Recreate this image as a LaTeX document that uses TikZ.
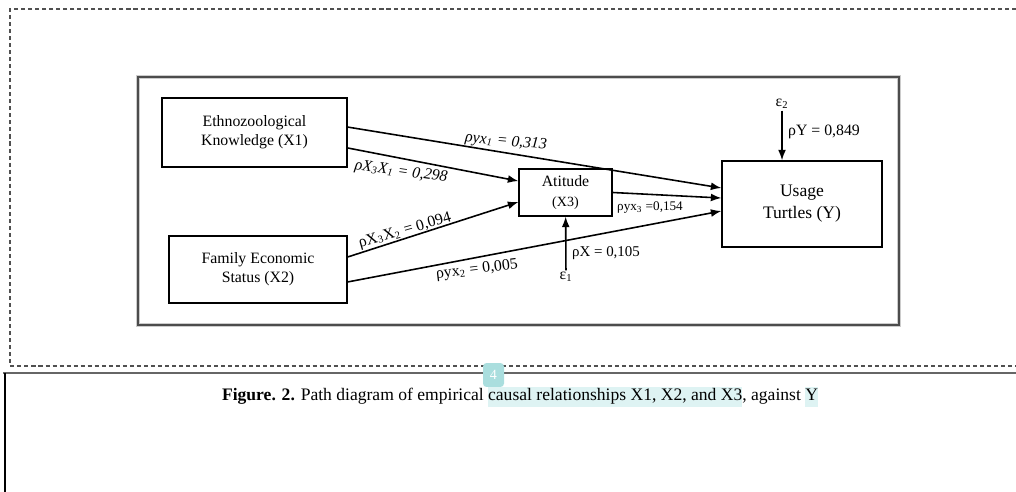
\documentclass[tikz,border=0pt]{standalone}
\usepackage{fontspec}
\setmainfont{Liberation Serif}
\usetikzlibrary{arrows.meta}
\definecolor{hlcyan}{RGB}{222,243,243}
\definecolor{badge}{RGB}{170,222,222}
\definecolor{frameline}{RGB}{80,80,80}
\newcommand{\hlt}[1]{{\setlength{\fboxsep}{0pt}\colorbox{hlcyan}{\strut #1}}}

\tikzset{
  var/.style={draw, rectangle, line width=0.7pt, align=center, font=\fontsize{9}{11}\selectfont},
  link/.style={-{Latex[length=6pt,width=4.5pt]}, line width=0.9pt},
  coef/.style={font=\fontsize{9}{10}\selectfont, inner sep=0pt},
}

\begin{document}
\begin{tikzpicture}[x=0.02cm, y=-0.02cm]
	\useasboundingbox (0,0) rectangle (1016,492);
	% page frames
	\draw[frameline, line width=0.8pt, dash pattern=on 2.3pt off 1.7pt] (1016,9) -| (10,366) -- (1016,366);
	\draw[black!60, line width=1.7pt] (3,373) -- (1016,373);
	\draw[black, line width=0.6pt] (5,373) -- (5,492);
	\draw[gray!40, line width=2pt] (138,77) rectangle (899,325);
	\draw[black!70, line width=0.6pt] (138,77) rectangle (899,325);
	% variables
	\node[var, minimum width=3.7cm, minimum height=1.38cm] (X1) at (254.5,132.5) {Ethnozoological\\Knowledge (X1)};
	\node[var, minimum width=3.56cm, minimum height=1.34cm] (X2) at (258,269.5) {Family Economic\\Status (X2)};
	\node[var, minimum width=1.86cm, minimum height=0.94cm] (X3) at (565.5,192.5) {Atitude\\{\fontsize{8}{9}\selectfont (X3)}};
	\node[var, minimum width=3.2cm, minimum height=1.72cm, font=\fontsize{10}{12.5}\selectfont] (Y) at (802,204) {Usage\\Turtles (Y)};
	\node[inner sep=1pt, font=\fontsize{9}{10}\selectfont] (e1) at (566,277) {ε\textsubscript{1}};
	\node[inner sep=1pt, font=\fontsize{9}{10}\selectfont] (e2) at (782,104) {ε\textsubscript{2}};
	% paths
	\draw[link] ([yshift=3.1pt]X1.east) -- ([yshift=9.1pt]Y.west);
	\draw[link] ([yshift=-8.8pt]X1.east) -- ([yshift=6.5pt]X3.west);
	\draw[link] ([yshift=7.1pt]X2.east) -- ([yshift=-5.4pt]X3.west);
	\draw[link] ([yshift=-7.1pt]X2.east) -- ([yshift=-4pt]Y.west);
	\draw[link] (X3.east) -- ([yshift=3.4pt]Y.west);
	\draw[link] (e1) -- (X3);
	\draw[link] (e2) -- (e2 |- Y.north);
	% coefficients
	\node[coef, rotate=-5] (l1) at (506,142) {\itshape ρyx\textsubscript{1} = 0,313};
	\node[coef, rotate=-8] (l2) at (401,172) {\itshape ρX\textsubscript{3}X\textsubscript{1} = 0,298};
	\node[coef, rotate=16] (l3) at (405,231) {ρX\textsubscript{3}X\textsubscript{2} = 0,094};
	\node[coef, rotate=7] (l4) at (477,270) {ρyx\textsubscript{2} = 0,005};
	\node[coef, font=\fontsize{7.5}{9}\selectfont] (l5) at (650,208) {ρyx\textsubscript{3} =0,154};
	\node[coef, font=\fontsize{8.5}{10}\selectfont] (l6) at (606,253) {ρX = 0,105};
	\node[coef] (l7) at (824,132) {ρY = 0,849};
	% caption
	\node[inner sep=0pt, font=\fontsize{10}{11}\selectfont] (cap) at (520,397) {\textbf{Figure. 2.} Path diagram of empirical \hlt{causal relationships X1, X2, and X3}, against \hlt{Y}};
	\node[fill=badge, rounded corners=2pt, minimum width=0.42cm, minimum height=0.48cm, inner sep=0pt, text=white, font=\fontsize{8}{9}\selectfont] (pg) at (493.5,375) {4};
\end{tikzpicture}
\end{document}
